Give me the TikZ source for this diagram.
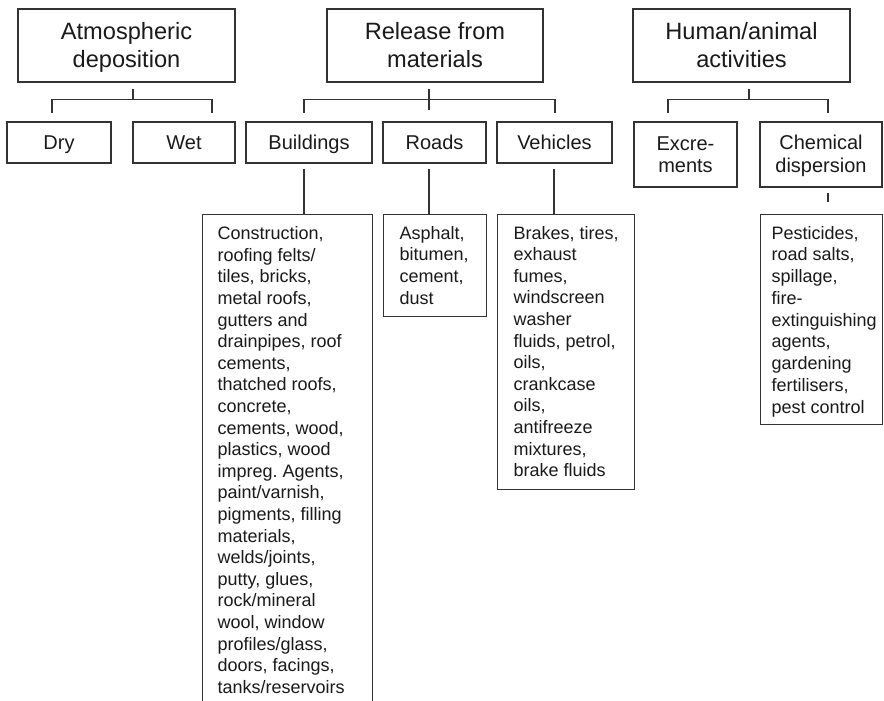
\documentclass[tikz,border=0pt]{standalone}
\usepackage{fontspec}
\setmainfont{Liberation Sans}
\frenchspacing
\definecolor{linec}{HTML}{333333}
\definecolor{textc}{HTML}{1A1A1A}
% centred text block: width, height, first baseline, font size, baselineskip, text
\newcommand{\ctext}[6]{\begin{minipage}[c][#2pt][t]{#1pt}\centering\fontsize{#4pt}{#5pt}\selectfont\rule{0pt}{#3pt}#6\end{minipage}}
% left text block: width, height, first baseline, font size, baselineskip, indent, text
\newcommand{\ltext}[7]{\begin{minipage}[c][#2pt][t]{#1pt}\raggedright\leftskip=#6pt\fontsize{#4pt}{#5pt}\selectfont\rule{0pt}{#3pt}#7\end{minipage}}
\tikzset{
  box/.style={draw=linec, line width=1.3pt, inner sep=0pt, text=textc},
  conn/.style={draw=linec, line width=1.3pt},
}
\begin{document}
\begin{tikzpicture}[x=1pt,y=-1pt]
\useasboundingbox (0,0) rectangle (884,701);
\clip (0,0) rectangle (884,701);
\fill[white] (0,0) rectangle (884,701);

% top level
\node[box] (atm) at (126.5,45.5) {\ctext{217}{73}{31}{23.6}{28}{Atmospheric\\deposition}};
\node[box] (rel) at (435,45.5) {\ctext{216}{73}{31}{23.6}{28}{Release from\\materials}};
\node[box] (hum) at (741.5,45.5) {\ctext{217}{73}{31}{23.6}{28}{Human/animal\\activities}};

% second level
\node[box] (dry) at (59,142.5) {\ctext{104}{41}{28}{20}{22.5}{Dry}};
\node[box] (wet) at (184,142.5) {\ctext{102}{41}{28}{20}{22.5}{Wet}};
\node[box] (bldg) at (309,142.5) {\ctext{126}{41}{28}{20}{22.5}{Buildings}};
\node[box] (roads) at (434.5,142.5) {\ctext{103}{41}{28}{20}{22.5}{Roads}};
\node[box] (veh) at (554.5,142.5) {\ctext{115}{41}{28}{20}{22.5}{Vehicles}};
\node[box] (exc) at (685.5,154.5) {\ctext{103}{65}{28.5}{20}{22.5}{Excre-\\ments}};
\node[box] (chem) at (821,154.5) {\ctext{122}{65}{28}{20}{22.5}{Chemical\\dispersion}};

% detail boxes
\node[box, anchor=north west] (bldgd) at (202,214) {\ltext{170}{500}{25}{18}{21.6}{15}{Construction,\\roofing felts/\\tiles, bricks,\\metal roofs,\\gutters and\\drainpipes, roof\\cements,\\thatched roofs,\\concrete,\\cements, wood,\\plastics, wood\\impreg. Agents,\\paint/varnish,\\pigments, filling\\materials,\\welds/joints,\\putty, glues,\\rock/mineral\\wool, window\\profiles/glass,\\doors, facings,\\tanks/reservoirs}};
\node[box, anchor=north west] (roadsd) at (383,214) {\ltext{103}{102}{24.5}{18}{21.8}{16}{Asphalt,\\bitumen,\\cement,\\dust}};
\node[box, anchor=north west] (vehd) at (497,214) {\ltext{137}{275}{24.5}{18}{21.6}{16}{Brakes, tires,\\exhaust\\fumes,\\windscreen\\washer\\fluids, petrol,\\oils,\\crankcase\\oils,\\antifreeze\\mixtures,\\brake fluids}};
\node[box, anchor=north west] (chemd) at (760,214) {\ltext{122}{210}{24.5}{18}{21.75}{11}{Pesticides,\\road salts,\\spillage,\\fire-\\extinguishing\\agents,\\gardening\\fertilisers,\\pest control}};

% bracket coordinates
\coordinate (atmM) at (133,99.5);
\coordinate (atmL) at (52,113);
\coordinate (atmR) at (212,113);
\coordinate (relM) at (429,99.5);
\coordinate (relL) at (304,113);
\coordinate (relR) at (555,113);
\coordinate (humM) at (749,99.5);
\coordinate (humL) at (668,113);
\coordinate (humR) at (828,113);
\coordinate (bx) at (304,0);
\coordinate (rx) at (429,0);
\coordinate (vx) at (554,0);
\coordinate (cx) at (828,0);

% connectors
\draw[conn] ([yshift=-6pt]atm.south -| atmM) -- (atmM);
\draw[conn] (atmL) |- (atmM) -| (atmR);
\draw[conn] ([yshift=-6pt]rel.south -| relM) -- ([yshift=11pt]roads.north -| relM);
\draw[conn] (relL) |- (relM) -| (relR);
\draw[conn] ([yshift=-6pt]hum.south -| humM) -- (humM);
\draw[conn] (humL) |- (humM) -| (humR);

\draw[conn] ([yshift=-5pt]bldg.south -| bx) -- (bldgd.north -| bx);
\draw[conn] ([yshift=-5pt]roads.south -| rx) -- (roadsd.north -| rx);
\draw[conn] ([yshift=-5pt]veh.south -| vx) -- (vehd.north -| vx);
\draw[conn] ([yshift=-5pt]chem.south -| cx) -- ([yshift=12pt]chemd.north -| cx);
\end{tikzpicture}
\end{document}
